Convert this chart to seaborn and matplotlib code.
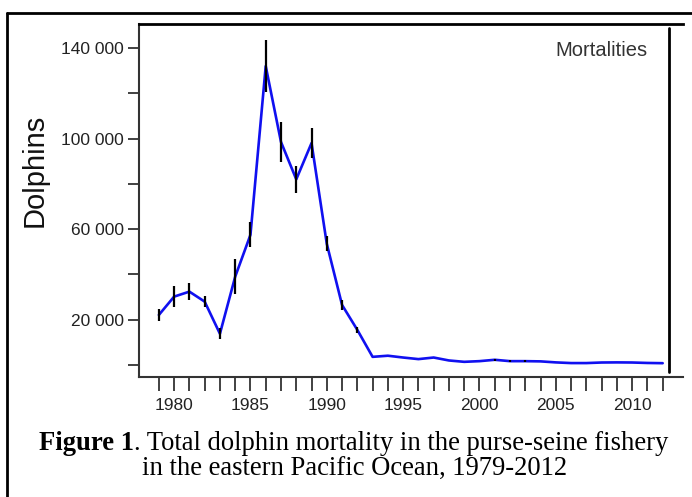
import matplotlib
matplotlib.use("Agg")
import matplotlib.pyplot as plt
import seaborn as sns
import numpy as np
import pandas as pd
from matplotlib.lines import Line2D

years = list(range(1979, 2013))
mortality = [22100, 30200, 32400, 28000, 13800, 39000, 57500, 132000, 98500, 82000,
             98000, 53500, 26500, 15500, 3600, 4100, 3300, 2600, 3300, 2000,
             1400, 1700, 2300, 1700, 1700, 1600, 1150, 850, 850, 1100,
             1150, 1100, 900, 800]
error = [2700, 4500, 3900, 2600, 2500, 7700, 5500, 11400, 9000, 5900,
         6500, 3300, 2200, 1200, 0, 0, 0, 0, 0, 0,
         0, 0, 400, 300, 300, 0, 0, 0, 0, 0,
         0, 0, 0, 0]
y_ticks = [0, 20000, 40000, 60000, 80000, 100000, 120000, 140000]
y_labels = ["", "20 000", "", "60 000", "", "100 000", "", "140 000"]
x_label_years = [1980, 1985, 1990, 1995, 2000, 2005, 2010]

df = pd.DataFrame({"year": years, "mortality": mortality, "error": error})

sns.set_theme(style="white")
plt.rcParams["font.family"] = ["Liberation Sans", "DejaVu Sans"]

fig = plt.figure(figsize=(6.92, 4.97), dpi=100)
ax = fig.add_axes([139/692, 120/497, (683-139)/692, (377-24)/497])

sns.lineplot(data=df, x="year", y="mortality", ax=ax, color="#1010f0", linewidth=1.9)
lo = df["mortality"] - df["error"]
hi = df["mortality"] + df["error"]
ax.vlines(df["year"], lo, hi, colors="black", linewidth=1.6, zorder=3)

ax.set_xlim(1977.7, 2013.33)
ax.set_ylim(-5300, 150600)

ax.set_yticks(y_ticks)
ax.set_yticklabels(y_labels)
ax.set_xticks(years)
ax.set_xticklabels([str(y) if y in x_label_years else "" for y in years])
ax.tick_params(axis="both", which="both", direction="out", length=8, width=1.3,
               color="#333333", labelsize=12.5, labelcolor="#222222", pad=3,
               left=True, bottom=True)
ax.tick_params(axis="x", length=10, pad=5)

ax.set_xlabel("")
ax.set_ylabel("Dolphins", fontsize=21, color="#111111")
ax.yaxis.set_label_coords(-0.167, 0.586)

for side in ["left", "bottom"]:
    ax.spines[side].set_color("#333333")
    ax.spines[side].set_linewidth(1.5)
ax.spines["top"].set_color("black")
ax.spines["top"].set_linewidth(2.0)
ax.spines["right"].set_visible(False)

ax.axvline(2012.41, ymin=0.014, ymax=0.99, color="black", linewidth=2.0)

ax.text(0.935, 0.925, "Mortalities", transform=ax.transAxes, ha="right", va="center",
        fontsize=14.5, color="#333333")

# outer frame (left and top)
fig.add_artist(Line2D([7/692, 7/692], [0, 1 - 13/497], transform=fig.transFigure,
                      color="black", linewidth=2.0))
fig.add_artist(Line2D([7/692, 1], [1 - 13/497, 1 - 13/497], transform=fig.transFigure,
                      color="black", linewidth=2.0))

# caption
cap_font = ["Liberation Serif", "DejaVu Serif"]
fig.canvas.draw()
r = fig.canvas.get_renderer()
t1 = fig.text(39/692, 1 - 444/497, "Figure 1", fontsize=19.2, fontweight="bold",
              family=cap_font, va="center", ha="left", color="black")
bb = t1.get_window_extent(renderer=r)
x2 = fig.transFigure.inverted().transform((bb.x1, bb.y0))[0]
fig.text(x2, 1 - 444/497, ". Total dolphin mortality in the purse-seine fishery",
         fontsize=19.2, family=cap_font, va="center", ha="left", color="black")
fig.text(354.5/692, 1 - 468/497, "in the eastern Pacific Ocean, 1979-2012",
         fontsize=19.2, family=cap_font, va="center", ha="center", color="black")

fig.savefig("out.png", dpi=100)
